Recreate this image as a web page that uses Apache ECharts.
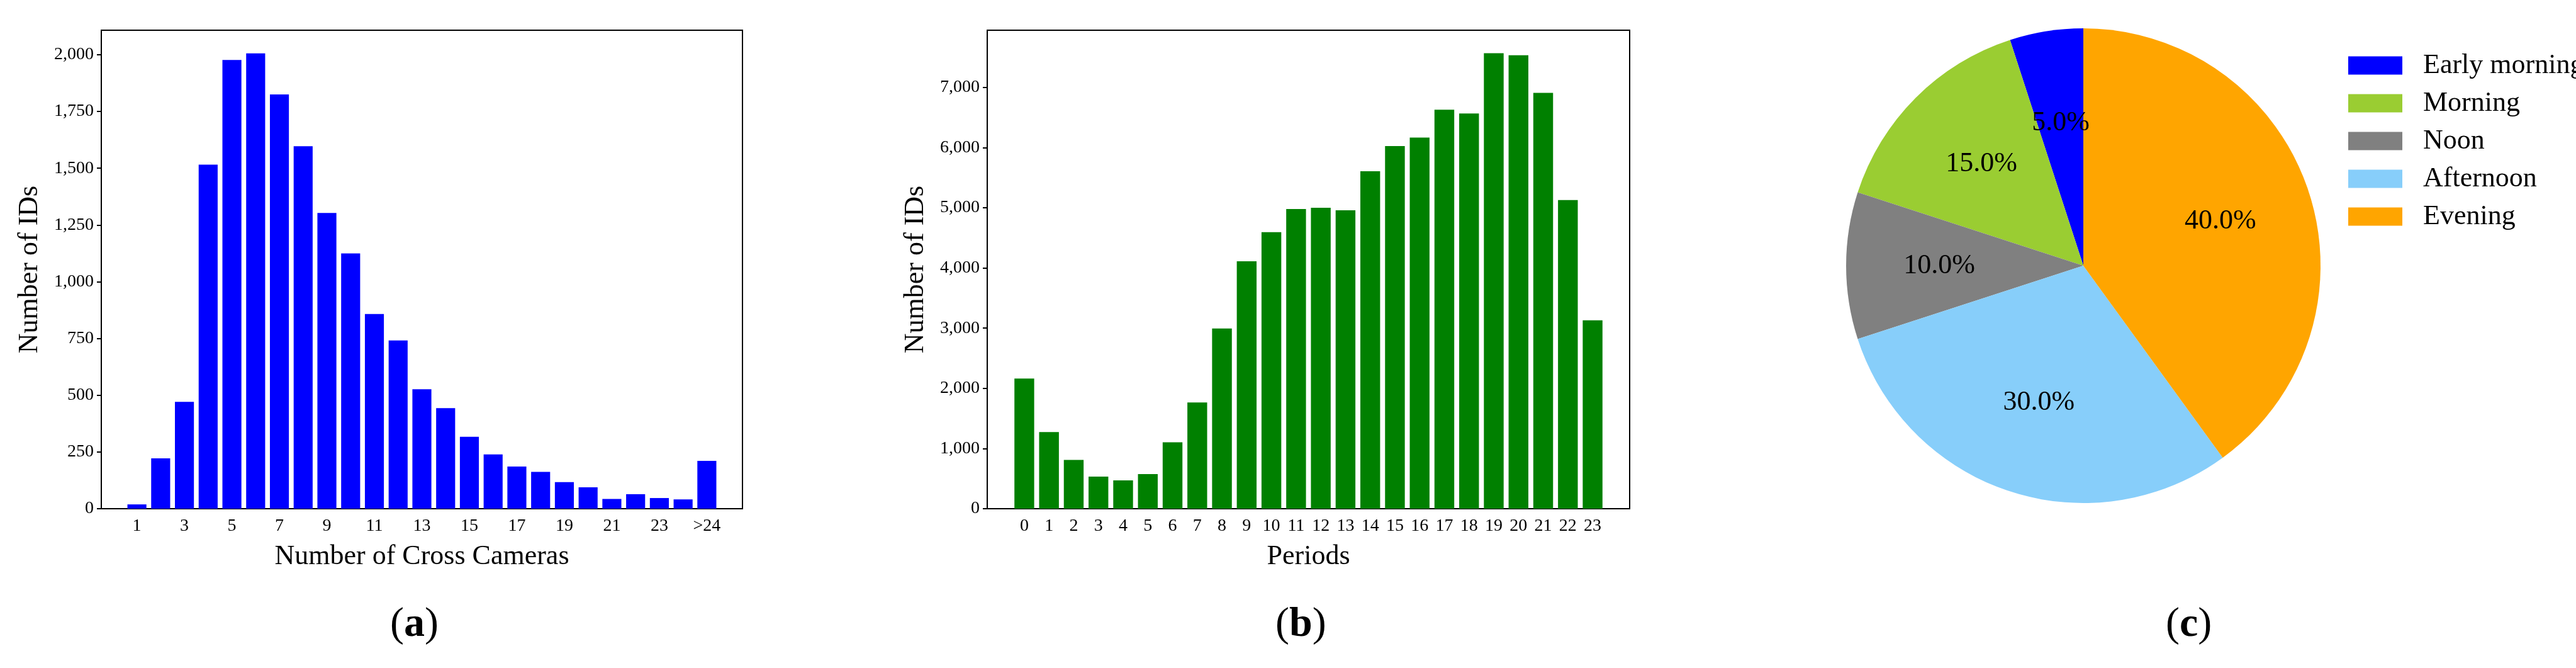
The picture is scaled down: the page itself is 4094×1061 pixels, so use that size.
<!DOCTYPE html>
<html>
<head>
<meta charset="utf-8">
<script src="https://cdn.jsdelivr.net/npm/echarts@6/dist/echarts.min.js"></script>
<style>
    html, body { margin: 0; padding: 0; background: #fff; }
    #main { width: 4094px; height: 1061px; }
</style>
</head>
<body>
<div id="main"></div>
<script>
// (a) 跨摄像头数量
var camLabels = ['1', '2', '3', '4', '5', '6', '7', '8', '9', '10', '11', '12', '13',
    '14', '15', '16', '17', '18', '19', '20', '21', '22', '23', '24', '>24'];
var camValues = [19, 222, 471, 1516, 1977, 2006, 1825, 1597, 1303, 1125, 858, 741, 526,
    443, 317, 239, 186, 162, 117, 94, 43, 64, 47, 41, 211];

// (b) 时段
var periodLabels = ['0', '1', '2', '3', '4', '5', '6', '7', '8', '9', '10', '11',
    '12', '13', '14', '15', '16', '17', '18', '19', '20', '21', '22', '23'];
var periodValues = [2163, 1273, 811, 534, 470, 576, 1103, 1764, 2995, 4112, 4596, 4980,
    5001, 4958, 5606, 6025, 6167, 6630, 6566, 7569, 7534, 6908, 5129, 3130];

// (c) 饼图
var pieNames = ['Early morning', 'Morning', 'Noon', 'Afternoon', 'Evening'];
var pieValues = [5, 15, 10, 30, 40];
var pieColors = ['#0000ff', '#9acd32', '#808080', '#87cefa', '#ffa500'];

(function() {
    var font = 'Liberation Serif';
    // 两端各补一个空类目，留出边距
    var catA = [''].concat(camLabels, ['']);
    var dataA = [null].concat(camValues, [null]);
    var catB = [''].concat(periodLabels, ['']);
    var dataB = [null].concat(periodValues, [null]);

    var oddOnly = function(i) { return i % 2 === 1; };

    var xAxisBase = function(idx, cats, title, labelInterval) {
        return {
            type: 'category',
            gridIndex: idx,
            data: cats,
            name: title,
            nameLocation: 'middle',
            nameGap: 54,
            nameTextStyle: { fontFamily: font, fontSize: 44, color: '#000' },
            axisLine: { lineStyle: { color: '#000', width: 2 } },
            axisTick: { alignWithLabel: true, interval: labelInterval, length: 7, lineStyle: { color: '#000', width: 2 } },
            axisLabel: { interval: labelInterval, fontFamily: font, fontSize: 28, color: '#000', margin: 14 }
        };
    };
    var yAxisBase = function(idx, max, interval) {
        return {
            type: 'value',
            gridIndex: idx,
            min: 0,
            max: max,
            interval: interval,
            name: 'Number of IDs',
            nameLocation: 'middle',
            nameGap: 92,
            nameTextStyle: { fontFamily: font, fontSize: 44, color: '#000' },
            splitLine: { show: false },
            axisLine: { show: true, lineStyle: { color: '#000', width: 2 } },
            axisTick: { show: true, length: 7, lineStyle: { color: '#000', width: 2 } },
            axisLabel: { fontFamily: font, fontSize: 28, color: '#000', margin: 12,
                showMaxLabel: false }
        };
    };

    var sub = function(letter, x) {
        return {
            type: 'text',
            left: x,
            top: 960,
            style: {
                text: '{p|(}{b|' + letter + '}{p|)}',
                rich: {
                    p: { fontFamily: font, fontSize: 66, fill: '#000' },
                    b: { fontFamily: font, fontSize: 66, fontWeight: 'bold', fill: '#000' }
                }
            }
        };
    };

    var pieData = pieNames.map(function(n, i) {
        return { name: n, value: pieValues[i], itemStyle: { color: pieColors[i] } };
    });
    var pieLabelData = pieNames.map(function(n, i) {
        return { name: n, value: pieValues[i], itemStyle: { color: 'transparent' } };
    });

    var option = {
        animation: false,
        grid: [
            { left: 161, top: 48, width: 1019, height: 760, show: true, borderColor: '#000', borderWidth: 2 },
            { left: 1569, top: 48, width: 1021, height: 760, show: true, borderColor: '#000', borderWidth: 2 }
        ],
        xAxis: [
            xAxisBase(0, catA, 'Number of Cross Cameras', function(i) { return oddOnly(i); }),
            xAxisBase(1, catB, 'Periods', 0)
        ],
        yAxis: [
            yAxisBase(0, 2108, 250),
            yAxisBase(1, 7950, 1000)
        ],
        legend: {
            orient: 'vertical',
            left: 3727,
            top: 77,
            itemWidth: 86,
            itemHeight: 29,
            itemGap: 16,
            icon: 'rect',
            textStyle: { fontFamily: font, fontSize: 44, color: '#000', padding: [0, 0, 0, 28] },
            data: pieNames.map(function(n, i) {
                return { name: n, itemStyle: { color: pieColors[i] } };
            })
        },
        graphic: [sub('a', 620), sub('b', 2027), sub('c', 3442)],
        series: [{
            type: 'bar',
            xAxisIndex: 0,
            yAxisIndex: 0,
            barWidth: '80%',
            data: dataA,
            itemStyle: { color: '#0000ff' }
        }, {
            type: 'bar',
            xAxisIndex: 1,
            yAxisIndex: 1,
            barWidth: '80%',
            data: dataB,
            itemStyle: { color: '#008000' }
        }, {
            type: 'pie',
            center: [3311, 422],
            radius: [0, 377],
            startAngle: 90,
            clockwise: false,
            label: { show: false },
            labelLine: { show: false },
            emphasis: { disabled: true },
            data: pieData
        }, {
            // 透明层，只用来把百分比放在 0.6 半径处
            type: 'pie',
            center: [3311, 422],
            radius: [75, 377],
            startAngle: 90,
            clockwise: false,
            silent: true,
            legendHoverLink: false,
            label: {
                show: true,
                position: 'inside',
                fontFamily: font,
                fontSize: 44,
                color: '#000',
                formatter: function(p) { return p.percent.toFixed(1) + '%'; }
            },
            labelLine: { show: false },
            data: pieLabelData
        }]
    };
    var myChart = echarts.init(document.getElementById('main'));
    myChart.setOption(option);
})();
</script>
</body>
</html>
